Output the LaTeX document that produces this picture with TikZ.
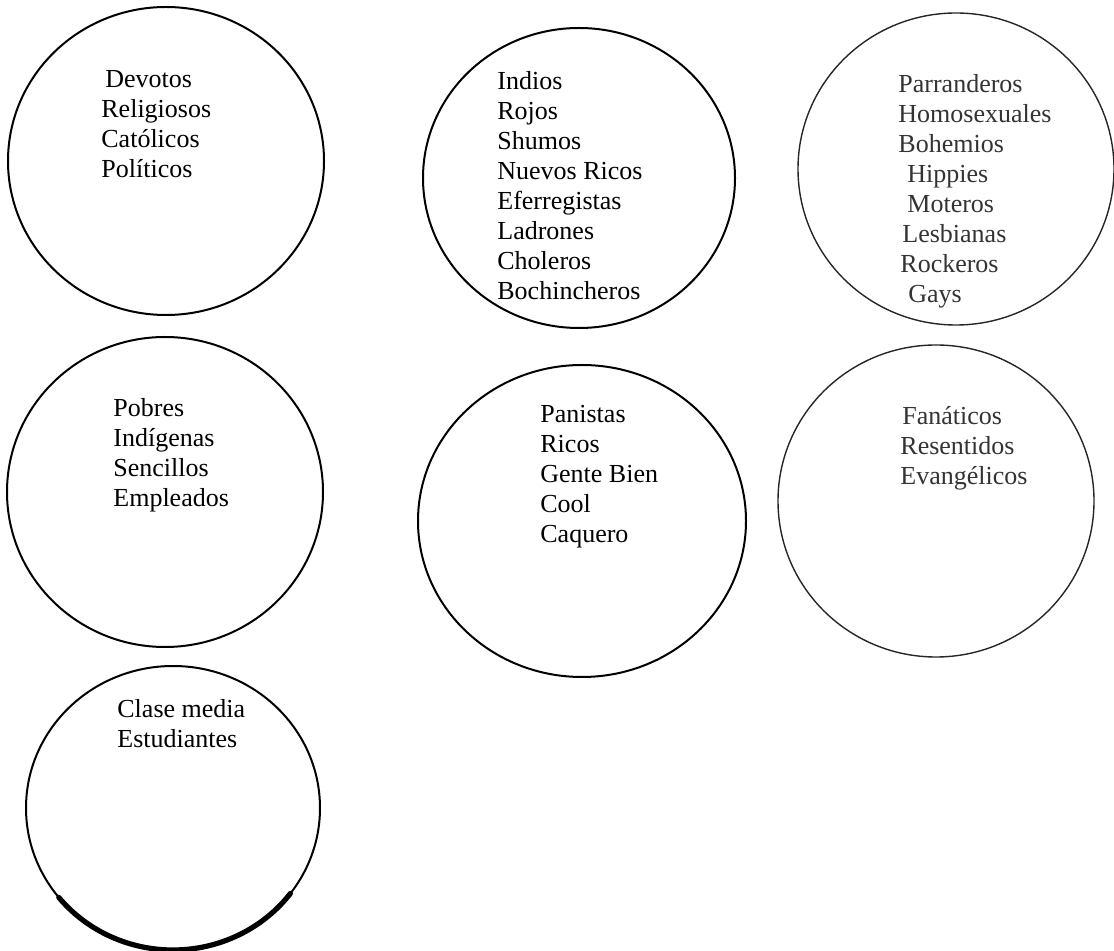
\documentclass[tikz,border=0pt]{standalone}
\usepackage{fontspec}
\setmainfont{Liberation Serif}
\usetikzlibrary{shapes.geometric}

\begin{document}
\begin{tikzpicture}[
    x=0.5pt, y=-0.5pt,
    grupo/.style={ellipse, draw=black, line width=1pt, inner sep=0pt},
    grupoclaro/.style={grupo, draw=black!85, line width=0.7pt},
    lista/.style={anchor=base west, inner sep=0pt, font=\fontsize{13}{15}\selectfont},
    listaclara/.style={lista, text=black!80},
    trazo/.style={line width=2.6pt, line cap=round}
]
\useasboundingbox (0,0) rectangle (1114,951);

% Circulos
\node[grupo, minimum width=158pt, minimum height=154pt] (g1) at (166,161) {};
\node[grupo, minimum width=156pt, minimum height=150pt] (g2) at (579,178) {};
\node[grupoclaro, minimum width=158pt, minimum height=156pt] (g3) at (956,169) {};
\node[grupo, minimum width=158pt, minimum height=155pt] (g4) at (165,492) {};
\node[grupo, minimum width=164pt, minimum height=156pt] (g5) at (582,521) {};
\node[grupoclaro, minimum width=158pt, minimum height=156pt] (g6) at (936,501) {};
\node[grupo, minimum width=147pt, minimum height=142pt] (g7) at (173,808) {};

% Trazo grueso del ultimo circulo
\draw[trazo] ([shift={(219:73.5pt and 71pt)}]g7.center) arc[start angle=219, end angle=323, x radius=73.5pt, y radius=71pt];

% Listas
\node[lista] (t1) at (101,88) {\begin{tabular}[t]{@{}l@{}}\hspace{2pt}Devotos\\ Religiosos\\ Católicos\\ Políticos\end{tabular}};
\node[lista] (t2) at (497,90) {\begin{tabular}[t]{@{}l@{}}Indios\\ Rojos\\ Shumos\\ Nuevos Ricos\\ Eferregistas\\ Ladrones\\ Choleros\\ Bochincheros\end{tabular}};
\node[listaclara] (t3) at (898,93) {\begin{tabular}[t]{@{}l@{}}Parranderos\\ Homosexuales\\ Bohemios\\ \hspace{4.5pt}Hippies\\ \hspace{4.5pt}Moteros\\ \hspace{2pt}Lesbianas\\ \hspace{1pt}Rockeros\\ \hspace{5pt}Gays\end{tabular}};
\node[lista] (t4) at (113,417) {\begin{tabular}[t]{@{}l@{}}Pobres\\ Indígenas\\ Sencillos\\ Empleados\end{tabular}};
\node[lista] (t5) at (540,423) {\begin{tabular}[t]{@{}l@{}}Panistas\\ Ricos\\ Gente Bien\\ Cool\\ Caquero\end{tabular}};
\node[listaclara] (t6) at (900,425) {\begin{tabular}[t]{@{}l@{}}\hspace{1pt}Fanáticos\\ Resentidos\\ Evangélicos\end{tabular}};
\node[lista] (t7) at (117,718) {\begin{tabular}[t]{@{}l@{}}Clase media\\ Estudiantes\end{tabular}};

\end{tikzpicture}
\end{document}
